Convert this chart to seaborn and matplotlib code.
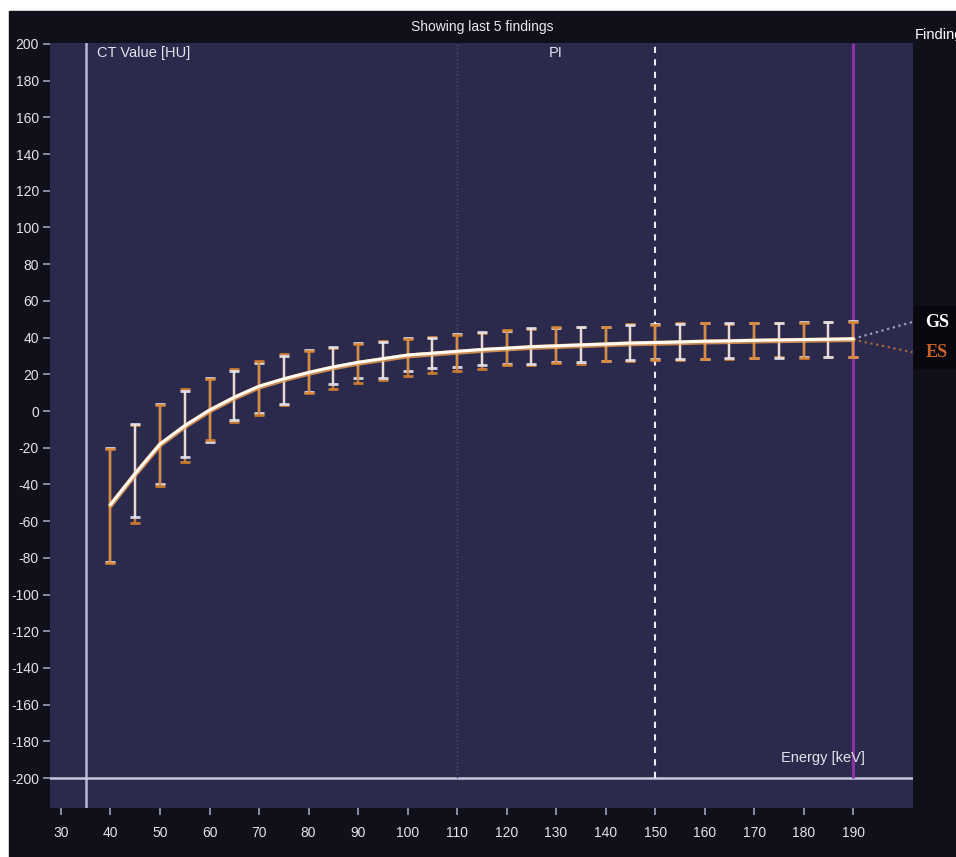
import matplotlib
matplotlib.use('Agg')
import pandas as pd
import matplotlib.pyplot as plt
import seaborn as sns
from matplotlib.patches import Rectangle

# Energy levels (keV) and CT values (HU)
energy = [40, 45, 50, 55, 60, 65, 70, 75, 80, 85, 90, 95, 100, 105, 110, 115,
          120, 125, 130, 135, 140, 145, 150, 155, 160, 165, 170, 175, 180, 185, 190]

gs_mean = [-51, -34, -18, -8, 0.5, 7.5, 13.5, 17.5, 21, 24, 26.5, 28.5, 30.5, 31.5, 32.5, 33.5,
           34.2, 35, 35.5, 36, 36.5, 37, 37.3, 37.6, 38, 38.2, 38.5, 38.7, 38.9, 39.1, 39.3]
gs_high = [-20, -7, 4, 11, 18, 22, 26, 30, 33, 35, 37, 37.5, 40, 40, 42, 43,
           43.5, 45, 45, 45.5, 46, 47, 47.5, 47.5, 48, 48, 48, 48, 48.5, 48.5, 49]
gs_low = [-82, -58, -40, -25, -17, -5, -1, 4, 10.5, 14.7, 18, 18, 21.8, 23.4, 24, 25,
          25.5, 25.6, 26.5, 26.5, 27.5, 28, 28.6, 28.5, 28.6, 29, 29, 29, 29.4, 29.4, 29.4]

es_mean = [-51.5, -34.5, -18.5, -8.5, 0, 7, 13, 17, 20.5, 23.5, 26, 28, 30, 31, 32, 33,
           33.8, 34.6, 35.1, 35.6, 36.1, 36.6, 36.9, 37.2, 37.6, 37.8, 38.1, 38.3, 38.5, 38.7, 38.9]
es_high = [-20.5, -7.5, 3.5, 12, 17.5, 23, 27, 31, 32.5, 34.5, 36.5, 38, 39.5, 40.5, 41.5, 42.5,
           44, 44.5, 45.5, 46, 45.5, 47.5, 47, 48, 48, 47.5, 48, 48, 48, 48.5, 48.5]
es_low = [-83, -61, -41, -28, -16, -6, -2, 3.5, 10, 12, 15, 17, 19, 20.7, 22, 23,
          25, 25, 26, 25.5, 27, 27.5, 28, 28, 28.6, 28.5, 29, 29.2, 29, 29.4, 29.4]

x_ticks = [30, 40, 50, 60, 70, 80, 90, 100, 110, 120, 130, 140, 150, 160, 170, 180, 190]
y_ticks = [-200, -180, -160, -140, -120, -100, -80, -60, -40, -20, 0,
           20, 40, 60, 80, 100, 120, 140, 160, 180, 200]

NAVY = '#2b2a4d'
DARK = '#10101b'
GS_COLOR = '#e6e6f0'
ES_COLOR = '#d9822e'
TXT = '#e2e2ea'

sns.set_theme(style='dark')
plt.rcParams['font.family'] = ['Liberation Sans', 'DejaVu Sans']
plt.rcParams['axes.unicode_minus'] = False

fig = plt.figure(figsize=(9.56, 8.57), dpi=100, facecolor='white')
# dark screenshot background (white border on top / left)
fig.add_artist(Rectangle((9 / 956, 0), 1, (857 - 11) / 857, transform=fig.transFigure,
                         color=DARK, zorder=-1))

ax = fig.add_axes([50 / 956, 49 / 857, 863 / 956, 765 / 857])
ax.set_facecolor(NAVY)
for s in ax.spines.values():
    s.set_visible(False)

# reference lines
ax.axvline(35, color='#b8b8dc', lw=1.8, zorder=2)
ax.axhline(-200, color='#c8c8e0', lw=1.8, zorder=2)
ax.vlines(110, -200, 200.5, color='#4c4c74', lw=1, linestyles=':', zorder=2)
ax.vlines(150, -200, 200.5, color='#ececf4', lw=1.5, linestyles=(0, (3, 3)), zorder=2)
ax.vlines(190, -200, 200.5, color='#8e2fa6', lw=2.2, zorder=2)

# error bars, the two series overlapping at each energy
gs = (gs_mean, gs_low, gs_high, GS_COLOR)
es = (es_mean, es_low, es_high, ES_COLOR)
for i, e in enumerate(energy):
    order = [gs, es] if i % 2 == 0 else [es, gs]
    for k, (m, lo, hi, c) in enumerate(order):
        ax.errorbar([e], [m[i]], yerr=[[m[i] - lo[i]], [hi[i] - m[i]]], fmt='none',
                    ecolor=c, elinewidth=1.7, capsize=3.8, capthick=2,
                    alpha=0.9, zorder=3 + k)

# mean curves: orange glow under a white line
df = pd.DataFrame({'energy': energy, 'GS': gs_mean, 'ES': es_mean})
sns.lineplot(data=df, x='energy', y='ES', color='#f0a050', lw=3.6, alpha=0.8, ax=ax, zorder=7)
sns.lineplot(data=df, x='energy', y='GS', color='#fffaf2', lw=2.2, ax=ax, zorder=8)

# connectors to series labels
ax.plot([190, 202], [gs_mean[-1], 48.5], color='#9aa0c4', ls=':', lw=1.6, zorder=6, clip_on=False)
ax.plot([190, 202], [es_mean[-1], 32], color='#a8643a', ls=':', lw=1.6, zorder=6, clip_on=False)

ax.set_xlim(27.78, 202.1)
ax.set_ylim(-216.3, 200.5)
ax.set_xticks(x_ticks)
ax.set_yticks(y_ticks)
ax.set_xlabel('')
ax.set_ylabel('')
ax.tick_params(axis='x', bottom=True, length=5, width=1.2, pad=8, labelsize=10,
               color='#a0a0b8', labelcolor=TXT)
ax.tick_params(axis='y', left=True, length=5, width=1.2, pad=3, labelsize=10,
               color='#a0a0b8', labelcolor=TXT)

ax.text(37.3, 195, 'CT Value [HU]', color=TXT, fontsize=10.5, ha='left', va='center')
ax.text(130, 195, 'PI', color=TXT, fontsize=10.5, ha='center', va='center')
ax.text(184, -189, 'Energy [keV]', color=TXT, fontsize=10.5, ha='center', va='center')

fig.text(482 / 956, 1 - 27 / 857, 'Showing last 5 findings', color='#e8e8f0',
         fontsize=10, ha='center', va='center')
fig.text(915 / 956, 1 - 35 / 857, 'Findings', color='white', fontsize=10.5,
         ha='left', va='center')

# label box for the series
fig.add_artist(Rectangle((914 / 956, 1 - 368 / 857), 42 / 956, 62 / 857,
                         transform=fig.transFigure, color='#08080e', zorder=1))
fig.text(937 / 956, 1 - 322 / 857, 'GS', family=['Liberation Serif', 'DejaVu Serif'],
         weight='bold', fontsize=13, color='white', ha='center', va='center', zorder=3)
fig.text(937 / 956, 1 - 352 / 857, 'ES', family=['Liberation Serif', 'DejaVu Serif'],
         weight='bold', fontsize=13, color='#c8642a', ha='center', va='center', zorder=3)

fig.savefig('out.png', dpi=100)
